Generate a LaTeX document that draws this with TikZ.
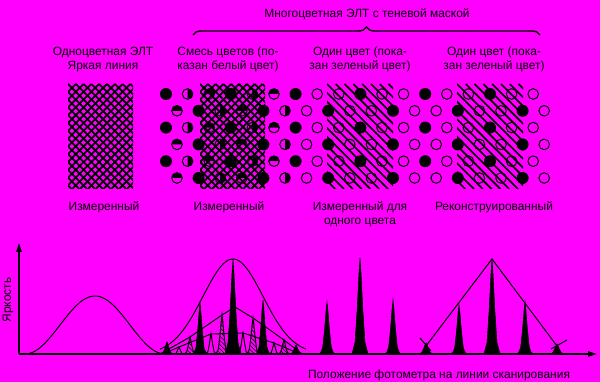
\documentclass[tikz,border=0pt]{standalone}
\usepackage{fontspec}
\setmainfont{Liberation Sans}
\usetikzlibrary{positioning, arrows.meta, decorations.pathreplacing, patterns}
\definecolor{bgpink}{HTML}{FF00FF}

% spike of a photometer trace: [style]{x}{top}{half width}
\newcommand{\spk}[4][spikeblk]{%
  \path[#1] ({#2-#4},354) -- ({#2-0.62*#4},{354-0.12*(354-#3)})
    -- ({#2-0.36*#4},{354-0.45*(354-#3)}) -- ({#2-0.12*#4},{354-0.85*(354-#3)})
    -- (#2,#3) -- ({#2+0.12*#4},{354-0.85*(354-#3)})
    -- ({#2+0.36*#4},{354-0.45*(354-#3)}) -- ({#2+0.62*#4},{354-0.12*(354-#3)})
    -- ({#2+#4},354) -- cycle;}

\tikzset{
  lbl/.style={font=\fontsize{8.5}{10.3}\selectfont, align=center, inner sep=0pt},
  dotline/.style={draw=black, line width=0.25mm},
  mesh/.style={line width=0.45mm},
  hatch/.style={line width=0.42mm},
  curve/.style={line width=0.25mm},
  axis/.style={line width=0.4mm, -{Triangle[length=2.2mm, width=1.3mm]}},
  spikeblk/.style={draw=black, fill=black, line width=0.15mm},
  spikehat/.style={draw=black, pattern=north west lines, line width=0.25mm},
  spikeopen/.style={draw=black, line width=0.25mm},
}

\begin{document}
\begin{tikzpicture}[x=0.25mm, y=-0.25mm]
  \fill[bgpink] (0,0) rectangle (600,382);
  \useasboundingbox (0,0) rectangle (600,382);

  % labels
  \node[lbl] (title) at (367,14) {Многоцветная ЭЛТ с теневой маской};
  \draw[line width=0.35mm, decorate, decoration={brace, amplitude=2mm}] (193,35) -- (540,35);
  \node[lbl] (mono) at (103,59.5) {Одноцветная ЭЛТ\\Яркая линия};
  \node[lbl] (mix) at (228,59.5) {Смесь цветов (по-\\казан белый цвет)};
  \node[lbl] (greenA) at (360,59.5) {Один цвет (пока-\\зан зеленый цвет)};
  \node[lbl] (greenB) at (494,59.5) {Один цвет (пока-\\зан зеленый цвет)};
  \node[lbl] (meas1) at (104,207) {Измеренный};
  \node[lbl] (meas2) at (229,207) {Измеренный};
  \node[lbl] (meas3) at (360,214.5) {Измеренный для\\одного цвета};
  \node[lbl] (recon) at (494,207) {Реконструированный};

  % phosphor dots
  \foreach \r in {0,...,5}{
    \foreach \k in {0,...,17}{
      \pgfmathsetmacro{\dx}{166+11*mod(\r,2)+21.6*\k}
      \pgfmathsetmacro{\dy}{94+16.8*\r}
      \pgfmathtruncatemacro{\kind}{mod(\k+2*mod(\r,2),3)}
      \ifdim\dx pt<300pt
        \ifcase\kind
          \fill (\dx,\dy) circle (6);
        \or
          \draw[dotline] (\dx,\dy) circle (5.3);
          \fill (\dx,{\dy-5.3}) arc[start angle=-90, end angle=90, radius=5.3] -- cycle;
        \or
          \draw[dotline] (\dx,\dy) circle (5.3);
          \fill ({\dx-5.3},\dy) arc[start angle=180, end angle=360, radius=5.3] -- cycle;
        \fi
      \else
        \ifnum\kind=0 \fill (\dx,\dy) circle (6); \else \draw[dotline] (\dx,\dy) circle (5.3); \fi
      \fi
    }
  }

  % bright line of the beam
  \foreach \xa in {68,200}{
    \begin{scope}
      \clip (\xa,84) rectangle ++(65,105);
      \foreach \i in {-14,...,23}{
        \draw[mesh] ({\xa+\i*7.8},84) -- ++(105,105);
        \draw[mesh] ({\xa+\i*7.8},84) -- ++(-105,105);
      }
    \end{scope}
  }
  \foreach \xa in {327,457}{
    \begin{scope}
      \clip (\xa,84) rectangle ++(66,105);
      \foreach \i in {-13,...,8}{
        \draw[hatch] ({\xa+\i*8.8},84) -- ++(105,105);
      }
    \end{scope}
  }

  % axes
  \coordinate (org) at (19,354);
  \coordinate (ytop) at (19,243);
  \coordinate (xend) at (597,354);
  \draw[axis] (org) -- (ytop);
  \draw[axis] (org) -- (xend);
  \node[lbl, rotate=90] (ylab) at (8,300) {Яркость};
  \node[lbl] (xlab) at (439,375) {Положение фотометра на линии сканирования};

  % traces
  \draw[curve] plot[domain=25:165, samples=60] (\x, {354-58*(1+cos(180*(\x-95)/70))/2});
  \draw[curve] plot[domain=160:306, samples=80] (\x, {354-95*exp(-((\x-233)^2)/1800)});
  \draw[curve] (160,354) -- (190,337) -- (222,315) -- (235,307) -- (253,318) -- (284,340) -- (302,354);
  \draw[curve] (163,354) -- (179,347) -- (211,334) -- (243,333) -- (274,343) -- (300,354);
  \foreach \sx/\st/\sw in {179/347/4.5, 211/334/5, 243/333/5, 274/343/4.5}
    \spk[spikeopen]{\sx}{\st}{\sw};
  \foreach \sx/\st/\sw in {190/337/5.5, 222/315/6, 253/318/6, 284/340/5.5}
    \spk[spikehat]{\sx}{\st}{\sw};
  \foreach \sx/\st/\sw in {167/342/6, 200/303/6.5, 233/259/8, 263/300/6.5, 296/345/6,
      327/302/7, 360/258/8, 393/300/7,
      426/343/7, 459/305/7, 492/259/8, 525/302/7, 557/344/7}
    \spk{\sx}{\st}{\sw};
  \draw[curve] (426,346) -- (492,259) -- (557,346);
  \draw[curve] (420,338) -- (431,351);
  \draw[curve] (551,349) -- (567,340);
\end{tikzpicture}
\end{document}
